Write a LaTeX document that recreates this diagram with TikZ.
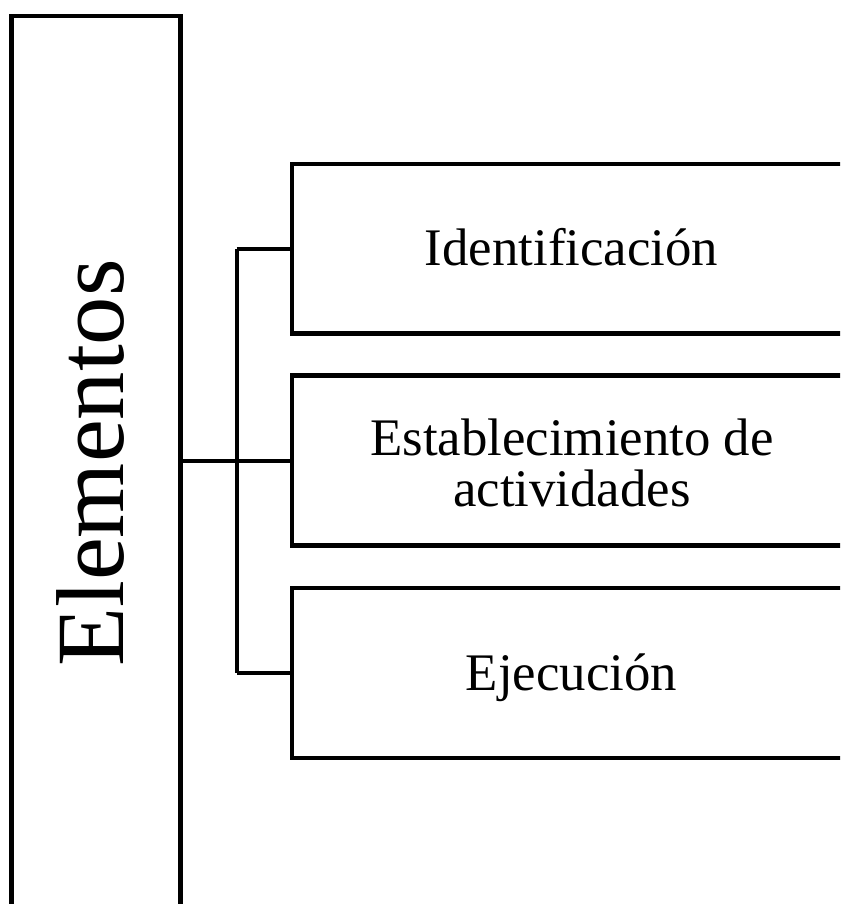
\documentclass[tikz,border=0pt]{standalone}
\usepackage{fontspec}
\setmainfont{Liberation Serif}
\begin{document}
\begin{tikzpicture}[x=1pt,y=-1pt,
  frame/.style={draw=black,line width=4.3pt,rectangle,inner sep=0pt,outer sep=0pt},
  conn/.style={draw=black,line width=4pt},
  boxtext/.style={anchor=base,inner sep=0pt,font=\fontsize{52.8}{52.8}\selectfont}]
\useasboundingbox (0,0) rectangle (840,904);
\clip (0,0) rectangle (840,904);
% left tall box
\node[frame,minimum width=169pt,minimum height=1000pt] (main) at (96,516) {};
\node[anchor=base,rotate=90,inner sep=0pt,font=\fontsize{96.5}{96.5}\selectfont] (mainlabel) at (123.5,463) {Elementos};
% right boxes
\node[frame,minimum width=560pt,minimum height=169.5pt,anchor=north west] (b1) at (292,164) {};
\node[frame,minimum width=560pt,minimum height=170pt,anchor=north west] (b2) at (292,375.5) {};
\node[frame,minimum width=560pt,minimum height=170pt,anchor=north west] (b3) at (292,588) {};
\node[boxtext] (t1) at (571.5,265.5) {Identificación};
\node[boxtext] (t2a) at (572,455) {Establecimiento de};
\node[boxtext] (t2b) at (572,506) {actividades};
\node[boxtext] (t3) at (571.5,690) {Ejecución};
% connectors
\coordinate (hub) at (236.5,460.5);
\draw[conn] (main.east |- hub) -- (b2.west |- hub);
\draw[conn] (hub |- b1.west) -- (hub |- b3.west);
\draw[conn] (hub |- b1.west) -- (b1.west);
\draw[conn] (hub |- b3.west) -- (b3.west);
\end{tikzpicture}
\end{document}
